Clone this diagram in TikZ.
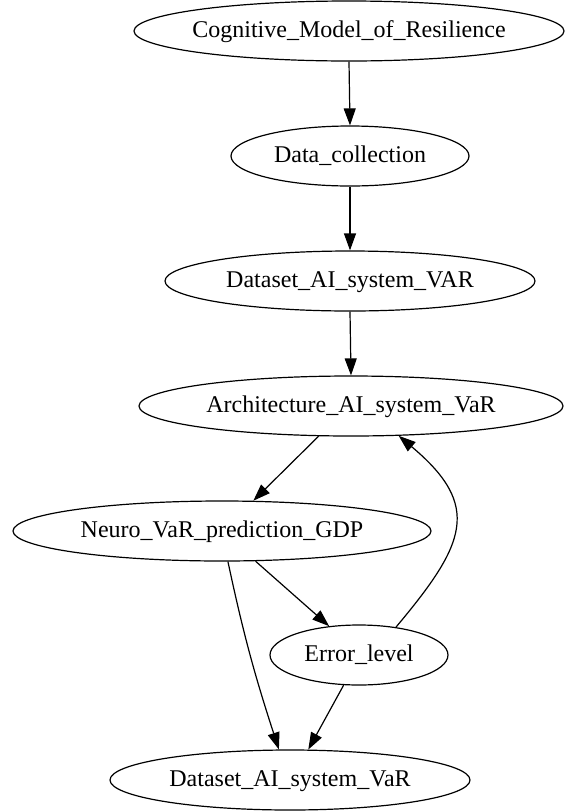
\documentclass[tikz,border=0pt]{standalone}
\usepackage{fontspec}
\setmainfont{Liberation Serif}
\usetikzlibrary{shapes.geometric,arrows.meta}
\begin{document}
\begin{tikzpicture}[x=1pt,y=-1pt,
  gv/.style={draw, ellipse, line width=1.2pt, inner sep=0pt, minimum height=60pt,
             text height=17pt, text depth=5pt, font=\fontsize{24}{28}\selectfont},
  edge/.style={line width=1.2pt, -{Triangle[length=17pt,width=12pt]}}]
\useasboundingbox (0,0) rectangle (565,812);
\node[gv, minimum width=430pt] (cog)  at (349,31)  {\makebox[0pt]{Cognitive\_Model\_of\_Resilience}};
\node[gv, minimum width=238pt] (dc)   at (350,156) {\makebox[0pt]{Data\_collection}};
\node[gv, minimum width=370pt] (dsv)  at (350,281) {\makebox[0pt]{Dataset\_AI\_system\_VAR}};
\node[gv, minimum width=424pt] (arch) at (351,406) {\makebox[0pt]{Architecture\_AI\_system\_VaR}};
\node[gv, minimum width=418pt] (neuro) at (222,531) {\makebox[0pt]{Neuro\_VaR\_prediction\_GDP}};
\node[gv, minimum width=178pt] (err)  at (359,655) {\makebox[0pt]{Error\_level}};
\node[gv, minimum width=360pt] (bot)  at (290,780) {\makebox[0pt]{Dataset\_AI\_system\_VaR}};

\draw[edge] (cog.south) -- (dc.north);
\draw[edge] (dc.south) -- (dsv.north);
\draw[edge] (dsv.south) -- (arch.north);
\draw[edge] (arch.223) -- (neuro.44);
\draw[edge] (neuro.318) -- (err.136);
\draw[edge] (neuro.281) to[out=-78, in=108] (bot.110);
\draw[edge] (err.243) -- (bot.59);
\draw[edge] (err.37) .. controls +(50:109pt) and +(-40:109pt) .. (arch.328);
\end{tikzpicture}
\end{document}
